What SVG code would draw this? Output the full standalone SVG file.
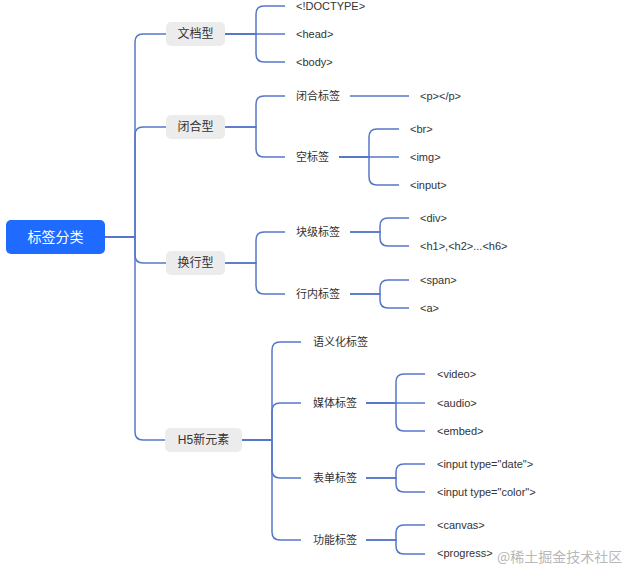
<svg xmlns="http://www.w3.org/2000/svg" width="632" height="581" viewBox="0 0 632 581">
<style>
text{font-family:"Liberation Sans","Noto Sans CJK SC",sans-serif;fill:#333;dominant-baseline:central}
.root{fill:#fff;font-size:14px;text-anchor:middle}
.l1{font-size:12px;text-anchor:middle}
.l2{font-size:11px}
.leaf{font-size:11px}
.box{fill:#ececec}
#connectors path{fill:none;stroke:#5577c9;stroke-width:1.5}
.wm{font-size:14px;fill:#b8b8b8;font-family:"Noto Sans CJK SC",sans-serif}
</style>
<rect width="632" height="581" fill="#fff"/>
<g id="connectors">
<path d="M105,237 H135 V42 Q135,34 143,34 H166"/>
<path d="M105,237 H135 V135 Q135,127 143,127 H166"/>
<path d="M105,237 H135 V255 Q135,263 143,263 H166"/>
<path d="M105,237 H135 V432 Q135,440 143,440 H165"/>
<path d="M225,34 H256 V14 Q256,6 264,6 H285"/>
<path d="M225,34 H285"/>
<path d="M225,34 H256 V54 Q256,62 264,62 H285"/>
<path d="M225,127 H256 V104 Q256,96 264,96 H285"/>
<path d="M225,127 H256 V149 Q256,157 264,157 H285"/>
<path d="M350,96 H409"/>
<path d="M339,157 H369 V137 Q369,129 377,129 H399"/>
<path d="M339,157 H399"/>
<path d="M339,157 H369 V177 Q369,185 377,185 H399"/>
<path d="M225,263 H256 V240 Q256,232 264,232 H285"/>
<path d="M225,263 H256 V286 Q256,294 264,294 H285"/>
<path d="M350,232 H380 V226 Q380,218 388,218 H409"/>
<path d="M350,232 H380 V238 Q380,246 388,246 H409"/>
<path d="M350,294 H380 V288 Q380,280 388,280 H409"/>
<path d="M350,294 H380 V300 Q380,308 388,308 H409"/>
<path d="M242,440 H272 V350 Q272,342 280,342 H301"/>
<path d="M242,440 H272 V411 Q272,403 280,403 H301"/>
<path d="M242,440 H272 V470 Q272,478 280,478 H301"/>
<path d="M242,440 H272 V532 Q272,540 280,540 H301"/>
<path d="M366,403 H396 V382 Q396,374 404,374 H425"/>
<path d="M366,403 H425"/>
<path d="M366,403 H396 V423 Q396,431 404,431 H425"/>
<path d="M366,478 H396 V472 Q396,464 404,464 H425"/>
<path d="M366,478 H396 V484 Q396,492 404,492 H425"/>
<path d="M366,540 H396 V533 Q396,525 404,525 H425"/>
<path d="M366,540 H396 V546 Q396,554 404,554 H425"/>
</g>
<g id="root"><rect x="6" y="220" width="99" height="34" rx="5" fill="#1f6bff"/><text class="root" x="55.5" y="237">标签分类</text></g>
<g id="n-wendang"><rect class="box" x="166" y="22" width="59" height="24" rx="5"/><text class="l1" x="195.5" y="34">文档型</text></g>
<g id="n-bihe"><rect class="box" x="166" y="115" width="59" height="24" rx="5"/><text class="l1" x="195.5" y="127">闭合型</text></g>
<g id="n-huanhang"><rect class="box" x="166" y="251" width="59" height="24" rx="5"/><text class="l1" x="195.5" y="263">换行型</text></g>
<g id="n-h5"><rect class="box" x="165" y="428" width="77" height="24" rx="5"/><text class="l1" x="203.5" y="440">H5新元素</text></g>
<g id="n-doctype"><text class="leaf" x="296" y="6">&lt;!DOCTYPE&gt;</text></g>
<g id="n-head"><text class="leaf" x="296" y="34">&lt;head&gt;</text></g>
<g id="n-body"><text class="leaf" x="296" y="62">&lt;body&gt;</text></g>
<g id="n-bihebq"><text class="l2" x="296" y="96">闭合标签</text></g>
<g id="n-p"><text class="leaf" x="420" y="96">&lt;p&gt;&lt;/p&gt;</text></g>
<g id="n-kong"><text class="l2" x="296" y="157">空标签</text></g>
<g id="n-br"><text class="leaf" x="410" y="129">&lt;br&gt;</text></g>
<g id="n-img"><text class="leaf" x="410" y="157">&lt;img&gt;</text></g>
<g id="n-input"><text class="leaf" x="410" y="185">&lt;input&gt;</text></g>
<g id="n-kuaiji"><text class="l2" x="296" y="232">块级标签</text></g>
<g id="n-div"><text class="leaf" x="420" y="218">&lt;div&gt;</text></g>
<g id="n-h1"><text class="leaf" x="420" y="246">&lt;h1&gt;,&lt;h2&gt;...&lt;h6&gt;</text></g>
<g id="n-hangnei"><text class="l2" x="296" y="294">行内标签</text></g>
<g id="n-span"><text class="leaf" x="420" y="280">&lt;span&gt;</text></g>
<g id="n-a"><text class="leaf" x="420" y="308">&lt;a&gt;</text></g>
<g id="n-yuyi"><text class="l2" x="313" y="342">语义化标签</text></g>
<g id="n-meiti"><text class="l2" x="313" y="403">媒体标签</text></g>
<g id="n-video"><text class="leaf" x="437" y="374">&lt;video&gt;</text></g>
<g id="n-audio"><text class="leaf" x="437" y="403">&lt;audio&gt;</text></g>
<g id="n-embed"><text class="leaf" x="437" y="431">&lt;embed&gt;</text></g>
<g id="n-biaodan"><text class="l2" x="313" y="478">表单标签</text></g>
<g id="n-date"><text class="leaf" x="437" y="464">&lt;input type="date"&gt;</text></g>
<g id="n-color"><text class="leaf" x="437" y="492">&lt;input type="color"&gt;</text></g>
<g id="n-gongneng"><text class="l2" x="313" y="540">功能标签</text></g>
<g id="n-canvas"><text class="leaf" x="437" y="525">&lt;canvas&gt;</text></g>
<g id="n-progress"><text class="leaf" x="437" y="553">&lt;progress&gt;</text></g>
<text class="wm" x="497" y="556">@稀土掘金技术社区</text>
</svg>
